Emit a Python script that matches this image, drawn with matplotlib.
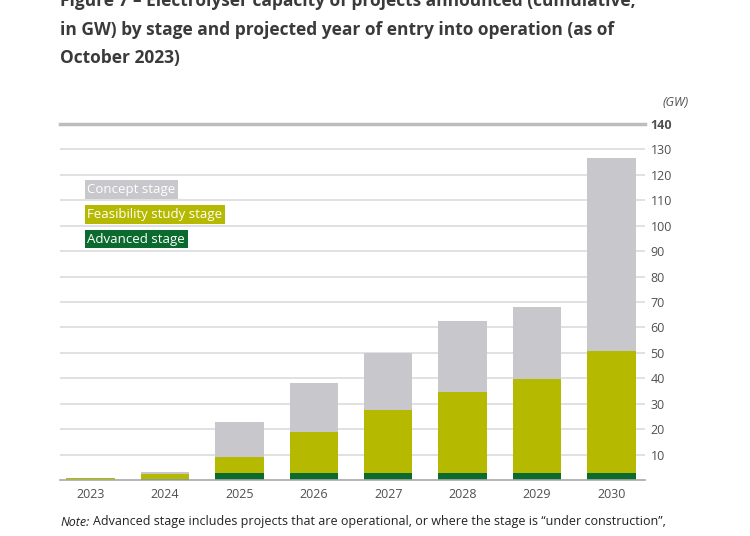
import matplotlib.pyplot as plt
import numpy as np

# data (GW, cumulative)
years = ["2023", "2024", "2025", "2026", "2027", "2028", "2029", "2030"]
advanced = [0.1, 0.2, 2.6, 2.6, 2.6, 2.6, 2.6, 2.6]
feasibility = [0.5, 2.0, 6.6, 16.4, 24.9, 31.9, 37.0, 48.1]
concept = [0.2, 0.8, 13.7, 19.3, 22.5, 28.0, 28.6, 75.9]
y_ticks = [10, 20, 30, 40, 50, 60, 70, 80, 90, 100, 110, 120, 130, 140]

c_adv = "#0b6b2e"
c_feas = "#b5ba00"
c_conc = "#c8c8cc"
txt = "#3a3a3a"

plt.rcParams["font.family"] = ["Open Sans", "DejaVu Sans"]

fig = plt.figure(figsize=(7.5, 5.36), dpi=100)
ax = fig.add_axes([0.08, 0.1045, 0.78, 0.6642])

x = np.arange(len(years))
w = 0.65
adv = np.array(advanced)
feas = np.array(feasibility)
conc = np.array(concept)
ax.bar(x, adv, w, color=c_adv, zorder=3)
ax.bar(x, feas, w, bottom=adv, color=c_feas, zorder=3)
ax.bar(x, conc, w, bottom=adv + feas, color=c_conc, zorder=3)

ax.set_xlim(-0.41, 7.45)
ax.set_ylim(0, 140)

# gridlines
for t in y_ticks[:-1]:
    ax.axhline(t, color="#dcdcdc", lw=1.2, zorder=1)
ax.axhline(140, color="#bdbdbd", lw=2.5, zorder=1, clip_on=False)
ax.axhline(0, color="#a8a8a8", lw=1.2, zorder=4, clip_on=False)

for s in ax.spines.values():
    s.set_visible(False)

ax.yaxis.tick_right()
ax.set_yticks(y_ticks)
ax.set_yticklabels([str(t) for t in y_ticks], fontsize=9, color="#505050")
ax.get_yticklabels()[-1].set_fontweight("bold")
ax.tick_params(axis="y", length=0, pad=4)
ax.set_xticks(x)
ax.set_xticklabels(years, fontsize=9, color="#505050")
ax.tick_params(axis="x", length=0, pad=6)

ax.text(1.03, 1.06, "(GW)", transform=ax.transAxes, fontsize=9, style="italic",
        color="#505050", ha="left", va="center")

# legend as coloured labels
leg = [("Concept stage", c_conc, 0.816), ("Feasibility study stage", c_feas, 0.746),
       ("Advanced stage", c_adv, 0.676)]
for label, col, yy in leg:
    ax.text(0.047, yy, label, transform=ax.transAxes, fontsize=9.5, color="white",
            va="center", ha="left", zorder=5,
            bbox=dict(boxstyle="square,pad=0.2", fc=col, ec="none"))

# title (first line cut off at top)
title = ("Figure 7 \u2013 Electrolyser capacity of projects announced (cumulative,\n"
         "in GW) by stage and projected year of entry into operation (as of\n"
         "October 2023)")
fig.text(0.08, 1 - 30 / 536, title, fontsize=12.5, fontweight="bold", color=txt,
         ha="left", va="center", linespacing=1.75)

note = fig.text(0.08, 1 - 522 / 536, "Note:", fontsize=9, style="italic", color="#222222",
                ha="left", va="center")
ax.annotate("Advanced stage includes projects that are operational, or where the stage is "
            "\u201cunder construction\u201d,",
            xy=(1, 0.5), xycoords=note, xytext=(3, 0), textcoords="offset points",
            fontsize=9, color="#222222", ha="left", va="center", annotation_clip=False)

fig.savefig("out.png", dpi=100)
